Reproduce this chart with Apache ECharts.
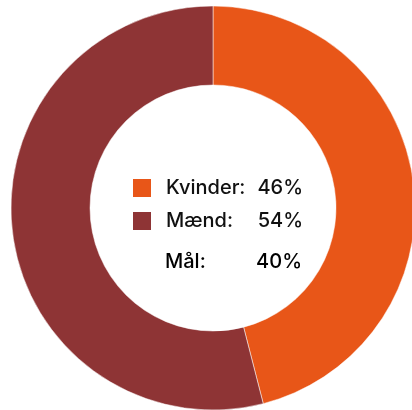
<!DOCTYPE html>
<html>
<head>
<meta charset="utf-8">
<style>
  html, body { margin: 0; padding: 0; background: #fff; }
  #chart { width: 412px; height: 410px; }
</style>
<script src="https://cdn.jsdelivr.net/npm/echarts@6/dist/echarts.min.js"></script>
</head>
<body>
<div id="chart"></div>
<script>
var categories = ['Kvinder', 'Mænd'];
var values = [46, 54];
var colors = ['#E85618', '#8E3435'];
var goalLabel = 'Mål';
var goalValue = 40;

var chart = echarts.init(document.getElementById('chart'));

var pieData = categories.map(function (c, i) {
    return { name: c, value: values[i], itemStyle: { color: colors[i] } };
});

var font = { fontSize: 20, fontFamily: 'Inter', fontWeight: 500, color: '#111' };
var legendRich = {
    n: Object.assign({ width: 92, padding: [0, 0, 0, 9] }, font),
    v: Object.assign({ width: 45, align: 'right' }, font)
};
var goalRich = {
    n: Object.assign({ width: 92 }, font),
    v: Object.assign({ width: 45, align: 'right' }, font)
};

option = {
    animation: false,
    legend: {
        orient: 'vertical',
        left: 131,
        top: 177,
        padding: 0,
        itemWidth: 20,
        itemHeight: 20,
        itemGap: 11,
        icon: 'rect',
        selectedMode: false,
        data: categories,
        formatter: function (name) {
            var i = categories.indexOf(name);
            return '{n|' + name + ':}{v|' + values[i] + '%}';
        },
        textStyle: { rich: legendRich }
    },
    graphic: [
        {
            type: 'text',
            left: 165,
            top: 252,
            style: {
                text: '{n|' + goalLabel + ':}{v|' + goalValue + '%}',
                rich: goalRich
            }
        }
    ],
    series: [
        {
            type: 'pie',
            center: [213, 208],
            radius: [123, 202],
            startAngle: 90,
            clockwise: true,
            label: { show: false },
            labelLine: { show: false },
            emphasis: { disabled: true },
            itemStyle: { borderColor: '#fff', borderWidth: 0.5 },
            data: pieData
        }
    ]
};
chart.setOption(option);
</script>
</body>
</html>
